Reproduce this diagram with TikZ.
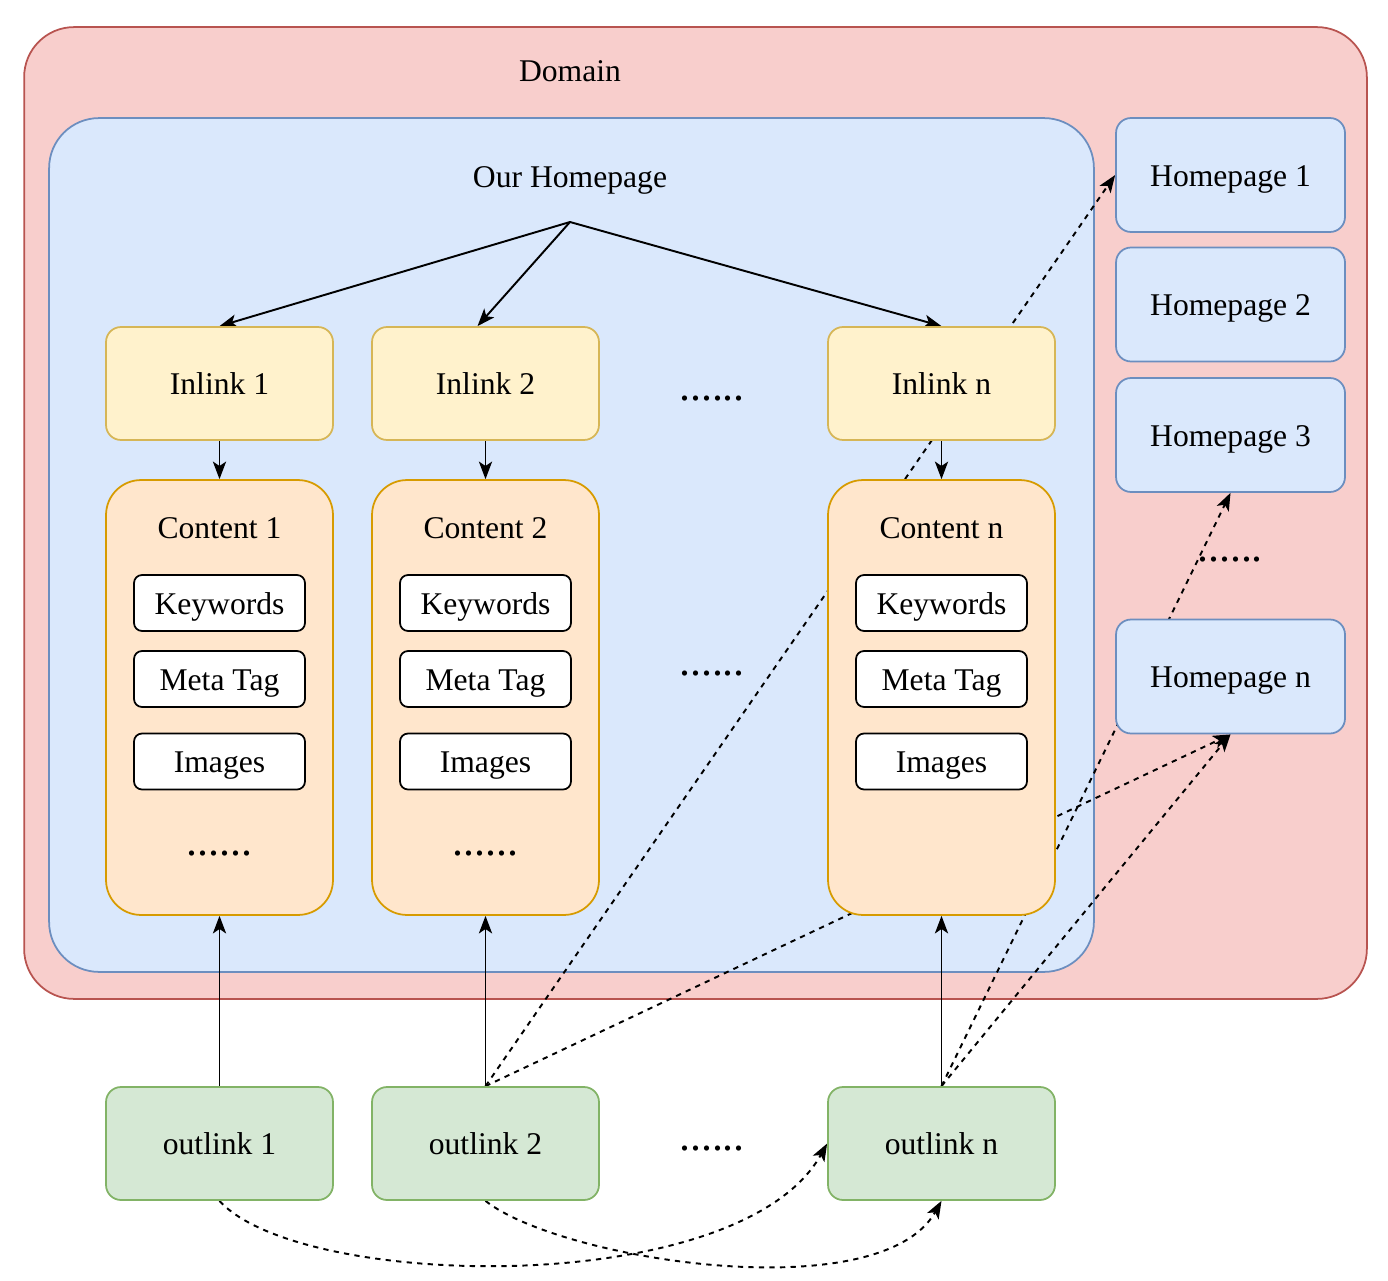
\documentclass[tikz,border=0pt]{standalone}
\usepackage{fontspec}
\setmainfont{Liberation Serif}
\usepackage{xcolor}
\usetikzlibrary{arrows.meta, positioning}

\definecolor{domainfill}{HTML}{F8CECC}
\definecolor{domainline}{HTML}{B85450}
\definecolor{pagefill}{HTML}{DAE8FC}
\definecolor{pageline}{HTML}{6C8EBF}
\definecolor{inlinkfill}{HTML}{FFF2CC}
\definecolor{inlinkline}{HTML}{D6B656}
\definecolor{contentfill}{HTML}{FFE6CC}
\definecolor{contentline}{HTML}{D79B00}
\definecolor{outlinkfill}{HTML}{D5E8D4}
\definecolor{outlinkline}{HTML}{82B366}

\pgfdeclarelayer{back}
\pgfdeclarelayer{links}
\pgfsetlayers{back,links,main}

\begin{document}
\begin{tikzpicture}[
          x=0.02cm, y=-0.02cm,
          every node/.style={font=\fontsize{18}{22}\selectfont, text height=13pt, text depth=0pt},
          box/.style={draw, line width=1pt, rounded corners=0.3cm, inner sep=0pt,
                      minimum width=4.54cm, minimum height=2.26cm},
          inlinkbox/.style={box, fill=inlinkfill, draw=inlinkline},
          outlinkbox/.style={box, fill=outlinkfill, draw=outlinkline},
          homebox/.style={box, fill=pagefill, draw=pageline, minimum width=4.58cm, minimum height=2.28cm},
          contentbox/.style={box, fill=contentfill, draw=contentline, rounded corners=0.7cm, minimum height=8.7cm},
          itembox/.style={box, fill=white, draw=black, rounded corners=0.16cm,
                          minimum width=3.42cm, minimum height=1.12cm},
          dots/.style={font=\fontsize{25}{25}\selectfont, text height=5pt, text depth=0pt},
          link/.style={line width=1.1pt, -{Stealth[length=10pt, width=7.5pt, inset=2.5pt]}},
          weblink/.style={link, dash pattern=on 3pt off 3pt}
        ]
          \useasboundingbox (0,0) rectangle (1388,1280);

          % containers
          \begin{pgfonlayer}{back}
            \node[box, fill=domainfill, draw=domainline, rounded corners=1cm,
                  minimum width=26.86cm, minimum height=19.44cm] (domain) at (695.5,513) {};
            \node[box, fill=pagefill, draw=pageline, rounded corners=1cm,
                  minimum width=20.9cm, minimum height=17.08cm] (ourpage) at (571.5,545) {};
          \end{pgfonlayer}
          \node (domainlabel) at (570,70) {Domain};
          \node (ourlabel) at (570,176) {Our Homepage};
          \coordinate (root) at (570,222);

          % inlinks
          \node[inlinkbox] (in1) at (219.5,383.5) {Inlink 1};
          \node[inlinkbox] (in2) at (485.5,383.5) {Inlink 2};
          \node[inlinkbox] (inn) at (941.5,383.5) {Inlink n};
          \node[dots] (dotsin) at (712,396) {......};

          % contents
          \node[contentbox] (ct1) at (219.5,697.5) {};
          \node[contentbox] (ct2) at (485.5,697.5) {};
          \node[contentbox] (ctn) at (941.5,697.5) {};
          \node (ctlabel1) at (219.5,527) {Content 1};
          \node (ctlabel2) at (485.5,527) {Content 2};
          \node (ctlabeln) at (941.5,527) {Content n};
          \node[itembox] (kw1) at (219.5,603) {Keywords};
          \node[itembox] (mt1) at (219.5,679) {Meta Tag};
          \node[itembox] (im1) at (219.5,761.5) {Images};
          \node[itembox] (kw2) at (485.5,603) {Keywords};
          \node[itembox] (mt2) at (485.5,679) {Meta Tag};
          \node[itembox] (im2) at (485.5,761.5) {Images};
          \node[itembox] (kwn) at (941.5,603) {Keywords};
          \node[itembox] (mtn) at (941.5,679) {Meta Tag};
          \node[itembox] (imn) at (941.5,761.5) {Images};
          \node[dots] (dots1) at (219.5,851) {......};
          \node[dots] (dots2) at (485.5,851) {......};
          \node[dots] (dotsct) at (712,671) {......};

          % other homepages
          \node[homebox] (hp1) at (1230.5,175) {Homepage 1};
          \node[homebox] (hp2) at (1230.5,304.5) {Homepage 2};
          \node[homebox] (hp3) at (1230.5,435) {Homepage 3};
          \node[homebox] (hpn) at (1230.5,676.5) {Homepage n};
          \node[dots] (dotshp) at (1230,557) {......};

          % outlinks
          \node[outlinkbox] (out1) at (219.5,1143.5) {outlink 1};
          \node[outlinkbox] (out2) at (485.5,1143.5) {outlink 2};
          \node[outlinkbox] (outn) at (941.5,1143.5) {outlink n};
          \node[dots] (dotsout) at (712,1146) {......};

          % connectors
          \begin{pgfonlayer}{links}
            \draw[link] (root) -- (in1.north);
            \draw[link] (root) -- ([xshift=-0.16cm]in2.north);
            \draw[link] (root) -- (inn.north);
            \draw[link] (in1) -- (ct1);
            \draw[link] (in2) -- (ct2);
            \draw[link] (inn) -- (ctn);
            \draw[link] (out1) -- (ct1);
            \draw[link] (out2) -- (ct2);
            \draw[link] (outn) -- (ctn);
            \draw[weblink] (out2.north) -- (hp1.west);
            \draw[weblink] (out2.north) -- (hpn.south);
            \draw[weblink] (outn.north) -- (hpn.south);
            \draw[weblink] (outn.north) -- (hp3.south);
            \draw[weblink] (out1.south) .. controls (300,1290) and (740,1300) .. (outn.west);
            \draw[weblink] (out2.south) .. controls (560,1260) and (880,1310) .. (outn.south);
          \end{pgfonlayer}
        \end{tikzpicture}
\end{document}
